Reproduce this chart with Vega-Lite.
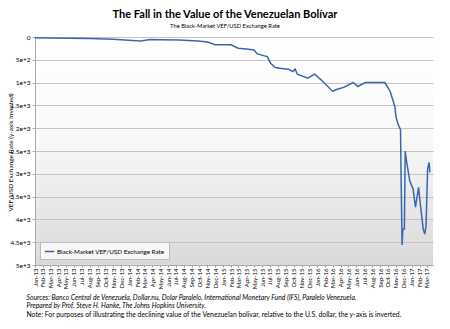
{
  "$schema": "https://vega.github.io/schema/vega-lite/v6.json",
  "width": 398,
  "height": 228,
  "autosize": "none",
  "padding": {"left": 35, "top": 37, "right": 17, "bottom": 64},
  "background": "white",
  "config": {
    "font": "Lato",
    "view": {
      "stroke": null,
      "fill": {"gradient": "linear", "x1": 0, "y1": 0, "x2": 0, "y2": 1,
        "stops": [{"offset": 0, "color": "#ffffff"}, {"offset": 0.45, "color": "#f9f9f9"}, {"offset": 1, "color": "#d9d9d9"}]}
    }
  },
  "title": {
    "text": "The Fall in the Value of the Venezuelan Bolívar",
    "subtitle": "The Black-Market VEF/USD Exchange Rate",
    "fontSize": 11,
    "fontWeight": "bold",
    "color": "#000000",
    "subtitleFontSize": 5.8,
    "subtitleColor": "#000000",
    "subtitlePadding": 3,
    "anchor": "middle",
    "offset": 5,
    "dx": -9
  },
  "data": {"values": [
    {"date": "2013-01-01", "rate": 17},
    {"date": "2013-03-01", "rate": 22},
    {"date": "2013-05-15", "rate": 28},
    {"date": "2013-08-01", "rate": 35},
    {"date": "2013-11-01", "rate": 50},
    {"date": "2013-12-15", "rate": 64},
    {"date": "2014-02-15", "rate": 87},
    {"date": "2014-03-25", "rate": 55},
    {"date": "2014-05-01", "rate": 60},
    {"date": "2014-07-15", "rate": 68},
    {"date": "2014-09-25", "rate": 90},
    {"date": "2014-11-01", "rate": 110},
    {"date": "2014-12-01", "rate": 168},
    {"date": "2015-01-01", "rate": 172},
    {"date": "2015-02-01", "rate": 170},
    {"date": "2015-02-28", "rate": 245},
    {"date": "2015-04-01", "rate": 265},
    {"date": "2015-05-01", "rate": 284},
    {"date": "2015-05-13", "rate": 371},
    {"date": "2015-06-21", "rate": 430},
    {"date": "2015-07-04", "rate": 574},
    {"date": "2015-07-22", "rate": 670},
    {"date": "2015-08-15", "rate": 690},
    {"date": "2015-09-10", "rate": 705},
    {"date": "2015-09-28", "rate": 757},
    {"date": "2015-10-07", "rate": 705},
    {"date": "2015-10-16", "rate": 814},
    {"date": "2015-11-25", "rate": 902},
    {"date": "2015-12-22", "rate": 814},
    {"date": "2016-01-16", "rate": 939},
    {"date": "2016-03-01", "rate": 1194},
    {"date": "2016-03-13", "rate": 1157},
    {"date": "2016-04-15", "rate": 1100},
    {"date": "2016-05-19", "rate": 998},
    {"date": "2016-06-07", "rate": 1085},
    {"date": "2016-07-04", "rate": 998},
    {"date": "2016-08-15", "rate": 1000},
    {"date": "2016-09-19", "rate": 998},
    {"date": "2016-10-10", "rate": 1194},
    {"date": "2016-10-28", "rate": 1522},
    {"date": "2016-11-01", "rate": 1740},
    {"date": "2016-11-10", "rate": 1921},
    {"date": "2016-11-19", "rate": 2030},
    {"date": "2016-11-21", "rate": 2969},
    {"date": "2016-11-25", "rate": 4563},
    {"date": "2016-11-28", "rate": 4213},
    {"date": "2016-12-04", "rate": 4213},
    {"date": "2016-12-07", "rate": 2504},
    {"date": "2016-12-13", "rate": 2751},
    {"date": "2016-12-25", "rate": 3159},
    {"date": "2017-01-07", "rate": 3340},
    {"date": "2017-01-16", "rate": 3733},
    {"date": "2017-01-19", "rate": 3624},
    {"date": "2017-01-28", "rate": 3296},
    {"date": "2017-02-03", "rate": 3624},
    {"date": "2017-02-15", "rate": 4213},
    {"date": "2017-02-21", "rate": 4322},
    {"date": "2017-02-26", "rate": 4148},
    {"date": "2017-03-04", "rate": 2903},
    {"date": "2017-03-10", "rate": 2751},
    {"date": "2017-03-13", "rate": 2969}
  ]},
  "encoding": {
    "y": {
      "field": "rate", "type": "quantitative",
      "scale": {"domain": [0, 5000], "reverse": true, "nice": false},
      "axis": {
        "values": [0, 500, 1000, 1500, 2000, 2500, 3000, 3500, 4000, 4500, 5000],
        "format": ",",
        "labelFontSize": 6.5,
        "labelColor": "#000000",
        "labelPadding": 2,
        "tickSize": 3,
        "tickColor": "#aaaaaa",
        "domainColor": "#aaaaaa",
        "grid": true,
        "gridColor": "#c4c4c4",
        "title": "VEF/USD Exchange Rate (y-axis inverted)",
        "titleFontSize": 6.5,
        "titleFontWeight": "normal",
        "titleColor": "#000000",
        "titleX": -22,
        "titleY": 115
      }
    }
  },
  "layer": [
    {
      "mark": {"type": "line", "strokeWidth": 1.5, "interpolate": "linear"},
      "encoding": {
        "x": {
          "field": "date", "type": "temporal",
          "scale": {"domain": [{"year": 2013, "month": 1, "date": 1}, {"year": 2017, "month": 3, "date": 25}]},
          "axis": {
            "format": "%b-%y",
            "tickCount": {"interval": "month", "step": 1},
            "labelAngle": 270,
            "labelFontSize": 6,
            "labelColor": "#000000",
            "labelPadding": 1,
            "labelOverlap": false,
            "labelFlush": false,
            "labelBound": false,
            "tickSize": 2,
            "tickColor": "#999999",
            "domainColor": "#aaaaaa",
            "grid": false,
            "title": ["Sources: Banco Central de Venezuela, Dollar.nu, Dolar Paralelo, International Monetary Fund (IFS), Paralelo Venezuela.", "Prepared by Prof. Steve H. Hanke, The Johns Hopkins University."],
            "titleFontSize": 6.8,
            "titleFontStyle": "italic",
            "titleFontWeight": "normal",
            "titleColor": "#000000",
            "titleAnchor": "start",
            "titleAlign": "left",
            "titleBaseline": "alphabetic",
            "titleLineHeight": 8,
            "titleX": -9,
            "titleY": 34
          }
        },
        "color": {
          "datum": "Black-Market VEF/USD Exchange Rate",
          "scale": {"range": ["#3a66b0"]},
          "legend": {
            "title": null,
            "orient": "none",
            "legendX": 5,
            "legendY": 205,
            "symbolType": "stroke",
            "symbolStrokeWidth": 1.5,
            "symbolSize": 90,
            "labelFontSize": 6.3,
            "labelColor": "#000000",
            "labelOffset": 2,
            "padding": 4,
            "fillColor": "#f7f7f7",
            "strokeColor": "#bbbbbb"
          }
        }
      }
    },
    {
      "mark": {"type": "line", "opacity": 0},
      "encoding": {
        "x": {
          "field": "date", "type": "temporal",
          "axis": {
            "orient": "top",
            "labels": false,
            "ticks": false,
            "domain": false,
            "grid": false,
            "title": "Note: For purposes of illustrating the declining value of the Venezuelan bolívar, relative to the U.S. dollar, the y-axis is inverted.",
            "titleFontSize": 6.8,
            "titleFontWeight": "normal",
            "titleColor": "#000000",
            "titleAnchor": "start",
            "titleAlign": "left",
            "titleBaseline": "alphabetic",
            "titleX": -9,
            "titleY": 279
          }
        }
      }
    }
  ],
  "resolve": {"axis": {"x": "independent"}}
}
